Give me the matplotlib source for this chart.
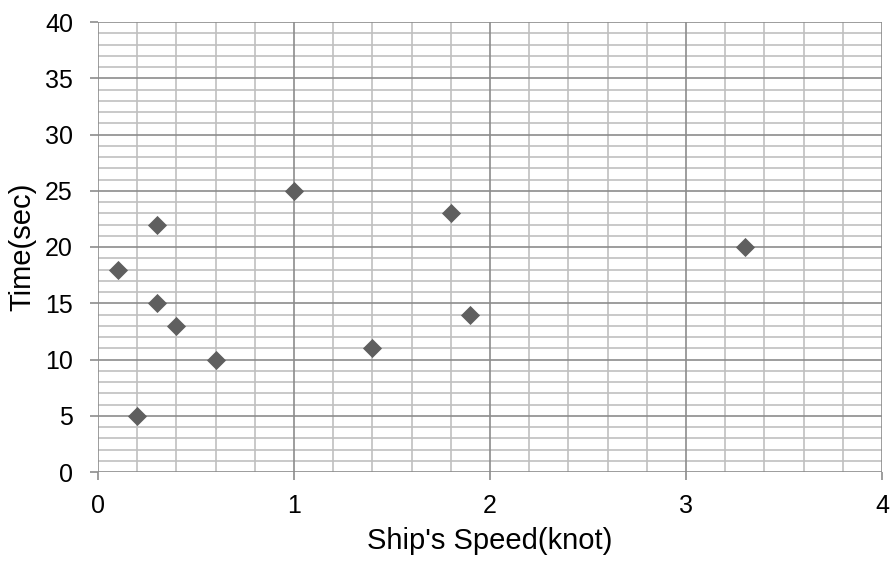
import matplotlib
matplotlib.use("Agg")
import matplotlib.pyplot as plt
import numpy as np

speed = [0.1, 0.2, 0.3, 0.3, 0.4, 0.6, 1.0, 1.4, 1.8, 1.9, 3.3]
time_sec = [18, 5, 22, 15, 13, 10, 25, 11, 23, 14, 20]
x_ticks = [0, 1, 2, 3, 4]
y_ticks = [0, 5, 10, 15, 20, 25, 30, 35, 40]

plt.rcParams['font.family'] = ['Liberation Sans', 'DejaVu Sans']

fig = plt.figure(figsize=(8.93, 5.61), dpi=100)
ax = fig.add_axes([98 / 893, 89 / 561, 784 / 893, 450 / 561])

ax.set_xlim(0, 4)
ax.set_ylim(0, 40)

# minor grid
for xv in np.arange(0.2, 4.0, 0.2):
    if abs(xv - round(xv)) > 1e-6:
        ax.axvline(xv, color='#c0c0c0', lw=1.2, zorder=1)
for yv in range(1, 40):
    if yv % 5:
        ax.axhline(yv, color='#c0c0c0', lw=1.2, zorder=1)
# major grid
for xv in x_ticks:
    ax.axvline(xv, color='#8c8c8c', lw=1.2, zorder=2)
for yv in y_ticks:
    ax.axhline(yv, color='#8c8c8c', lw=1.2, zorder=2)

for s in ax.spines.values():
    s.set_visible(False)

ax.set_xticks(x_ticks)
ax.set_yticks(y_ticks)
ax.tick_params(axis='both', length=6, width=1.2, color='#8c8c8c', labelsize=18)
ax.tick_params(axis='x', pad=10)
ax.tick_params(axis='y', pad=12)
ax.set_xticklabels([str(v) for v in x_ticks])

ax.scatter(speed, time_sec, marker='D', s=95, color='#5f5f5f', zorder=5, linewidths=0)

ax.set_xlabel("Ship's Speed(knot)", fontsize=21, labelpad=6)
ax.set_ylabel("Time(sec)", fontsize=21, labelpad=6)

fig.savefig("out.png", dpi=100)
